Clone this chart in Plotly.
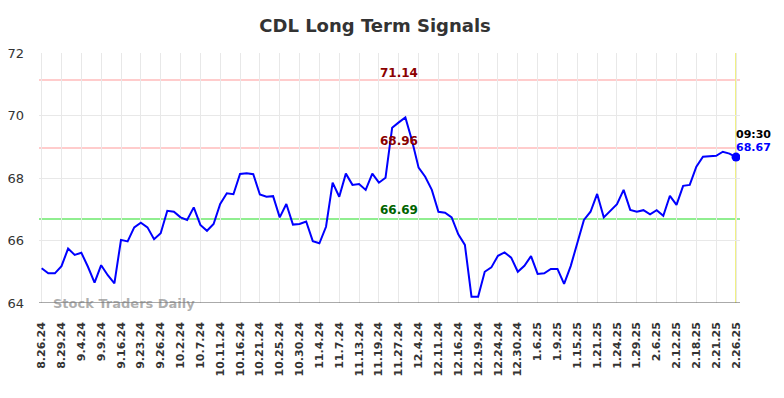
import plotly.graph_objects as go

tick_labels = ["8.26.24", "8.29.24", "9.4.24", "9.9.24", "9.16.24", "9.23.24", "9.26.24",
               "10.2.24", "10.7.24", "10.11.24", "10.16.24", "10.21.24", "10.25.24", "10.30.24",
               "11.4.24", "11.7.24", "11.13.24", "11.19.24", "11.27.24", "12.4.24", "12.11.24",
               "12.16.24", "12.19.24", "12.24.24", "12.30.24", "1.6.25", "1.9.25", "1.15.25",
               "1.21.25", "1.24.25", "1.29.25", "2.6.25", "2.12.25", "2.18.25", "2.21.25", "2.26.25"]

prices = [65.11, 64.95, 64.95, 65.18, 65.74, 65.54, 65.61, 65.16, 64.65, 65.21,
          64.89, 64.63, 66.02, 65.97, 66.42, 66.57, 66.42, 66.04, 66.23, 66.95,
          66.92, 66.74, 66.66, 67.06, 66.50, 66.31, 66.53, 67.17, 67.51, 67.48,
          68.13, 68.15, 68.12, 67.47, 67.40, 67.42, 66.74, 67.17, 66.51, 66.53,
          66.61, 65.98, 65.91, 66.44, 67.85, 67.40, 68.14, 67.78, 67.81, 67.62,
          68.14, 67.85, 68.01, 69.61, 69.78, 69.94, 69.20, 68.33, 68.04, 67.62,
          66.92, 66.89, 66.74, 66.20, 65.86, 64.20, 64.20, 65.00, 65.14, 65.51,
          65.62, 65.45, 65.00, 65.19, 65.50, 64.93, 64.95, 65.09, 65.09, 64.61,
          65.18, 65.93, 66.66, 66.92, 67.49, 66.74, 66.94, 67.16, 67.62, 66.98,
          66.92, 66.97, 66.84, 66.97, 66.79, 67.43, 67.14, 67.75, 67.78, 68.36,
          68.68, 68.69, 68.71, 68.84, 68.78, 68.67]

resistance_levels = [71.14, 68.96]
support_level = 66.69
last_time = "09:30"
ticks_every = 3

x = list(range(len(prices)))
tick_positions = [i * ticks_every for i in range(len(tick_labels))]
last_x = x[-1]
last_y = prices[-1]
label_x = 54

FONT = "DejaVu Sans"

fig = go.Figure()
fig.add_trace(go.Scatter(x=x, y=prices, mode="lines",
                         line=dict(color="#0000ff", width=2), hoverinfo="skip",
                         showlegend=False))
fig.add_trace(go.Scatter(x=[last_x], y=[last_y], mode="markers",
                         marker=dict(color="#0000ff", size=9), showlegend=False))

for lvl in resistance_levels:
    fig.add_hline(y=lvl, line=dict(color="#ffcccc", width=2), layer="below")
    fig.add_annotation(x=label_x, y=lvl, text=f"<b>{lvl:.2f}</b>", showarrow=False,
                       yshift=7, font=dict(family=FONT, size=12, color="#8b0000"))
fig.add_hline(y=support_level, line=dict(color="#90ee90", width=2), layer="below")
fig.add_annotation(x=label_x, y=support_level, text=f"<b>{support_level:.2f}</b>",
                   showarrow=False, yshift=9, font=dict(family=FONT, size=12, color="#006400"))

fig.add_vline(x=last_x, line=dict(color="#f0f080", width=2), layer="below")

fig.add_annotation(x=last_x, y=last_y, text=f"<b>{last_time}</b>", showarrow=False,
                   xanchor="left", xshift=-2, yshift=23,
                   font=dict(family=FONT, size=11, color="#000000"))
fig.add_annotation(x=last_x, y=last_y, text=f"<b>{last_y:.2f}</b>", showarrow=False,
                   xanchor="left", xshift=-2, yshift=10,
                   font=dict(family=FONT, size=11, color="#0000ff"))

fig.add_annotation(xref="paper", yref="paper", x=0.017, y=0.0, xanchor="left",
                   yanchor="middle",
                   text="<b>Stock Traders Daily</b>", showarrow=False,
                   font=dict(family=FONT, size=13, color="rgba(120,120,120,0.6)"))

fig.update_layout(
    width=776, height=390,
    margin=dict(l=31, r=44, t=45, b=95),
    paper_bgcolor="white", plot_bgcolor="white",
    title=dict(text="<b>CDL Long Term Signals</b>", x=0.473, xanchor="center",
               y=0.954, yanchor="middle",
               font=dict(family=FONT, size=18, color="#333333")),
    font=dict(family=FONT, color="#333333"),
    showlegend=False,
)
fig.update_xaxes(range=[-0.4, 105.6], tickmode="array", tickvals=tick_positions,
                 ticktext=tick_labels, tickangle=-90, automargin=False,
                 tickfont=dict(family=FONT, size=11, color="#333333", weight="bold"),
                 showgrid=True, gridcolor="#e8e8e8", gridwidth=1,
                 zeroline=False, showline=False, ticks="", ticklabelstandoff=16)
fig.update_yaxes(range=[64, 72], tickmode="array", tickvals=[64, 66, 68, 70, 72],
                 automargin=False,
                 tickfont=dict(family=FONT, size=13, color="#333333"),
                 showgrid=True, gridcolor="#e8e8e8", gridwidth=1,
                 zeroline=False, showline=False, ticks="", ticklabelstandoff=14)
fig.add_hline(y=64, line=dict(color="#555555", width=1))

fig.write_html("out.html")
